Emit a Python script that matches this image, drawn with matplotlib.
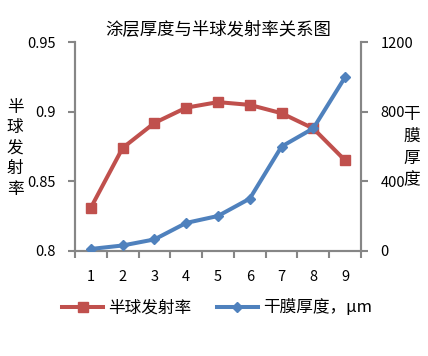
#!/usr/bin/env python3

import matplotlib
matplotlib.use("Agg")
import matplotlib.pyplot as plt

plt.rcParams['font.family'] = ['Noto Sans CJK SC', 'DejaVu Sans']

# data
samples = [1, 2, 3, 4, 5, 6, 7, 8, 9]
emissivity = [0.831, 0.874, 0.892, 0.903, 0.907, 0.905, 0.899, 0.888, 0.865]
thickness = [10, 30, 65, 160, 200, 300, 600, 705, 1000]

left_ticks = [0.8, 0.85, 0.9, 0.95]
left_labels = ['0.8', '0.85', '0.9', '0.95']
right_ticks = [0, 400, 800, 1200]

title = '涂层厚度与半球发射率关系图'
left_name = '半球发射率'
right_name = '干膜厚度'
legend_names = ['半球发射率', '干膜厚度，μm']

RED = '#C0504D'
BLUE = '#4F81BD'
GREY = '#868686'

fig = plt.figure(figsize=(4.28, 3.56), dpi=100)
ax = fig.add_axes([0.1752, 0.2958, 0.6683, 0.5851])
ax2 = ax.twinx()

l1, = ax.plot(samples, emissivity, color=RED, lw=2.9, marker='s', ms=6.8,
              label=legend_names[0], zorder=3)
l2, = ax2.plot(samples, thickness, color=BLUE, lw=2.9, marker='D', ms=5.5,
               label=legend_names[1], zorder=3)

ax.set_xlim(0.5, 9.5)
ax.set_ylim(0.8, 0.95)
ax2.set_ylim(0, 1200)

ax.set_yticks(left_ticks)
ax.set_yticklabels(left_labels)
ax2.set_yticks(right_ticks)
ax.set_xticks(samples)
ax.set_xticks([s + 0.5 for s in [0] + samples], minor=True)

ax.tick_params(axis='x', which='major', length=0, pad=14, labelsize=10.5)
ax.tick_params(axis='x', which='minor', length=5, width=1.5, color=GREY, direction='out')
ax.tick_params(axis='y', length=5, width=1.5, color=GREY, pad=9, labelsize=10.5)
ax2.tick_params(axis='y', length=5, width=1.5, color=GREY, pad=9, labelsize=10.5)

for a in (ax, ax2):
    a.spines['top'].set_visible(False)
    for s in ('left', 'right', 'bottom'):
        a.spines[s].set_color(GREY)
        a.spines[s].set_linewidth(1.5)

ax.set_title(title, fontsize=12.5, pad=5)

fig.text(0.035, 0.584, '\n'.join(left_name), fontsize=12, ha='center', va='center',
         linespacing=1.27)
fig.text(0.962, 0.587, '\n'.join(right_name), fontsize=12, ha='center', va='center',
         linespacing=1.38)

fig.legend(handles=[l1, l2], loc='center', bbox_to_anchor=(0.507, 0.135), ncol=2,
           frameon=False, fontsize=12, handlelength=2.5, handletextpad=0.3,
           columnspacing=1.5)

fig.savefig('out.png', dpi=100)
